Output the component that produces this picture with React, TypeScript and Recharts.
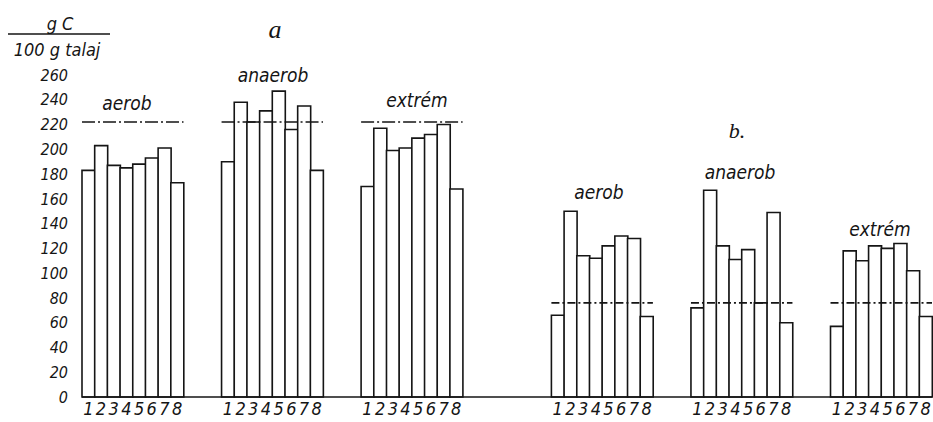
import React from 'react';
import { BarChart, Bar, XAxis, YAxis, ReferenceLine } from 'recharts';

// g C / 100 g talaj, bars 1-8 per treatment
const aAerob = [183, 203, 187, 185, 188, 193, 201, 173];
const aAnaerob = [190, 238, 222, 231, 247, 216, 235, 183];
const aExtrem = [170, 217, 199, 201, 209, 212, 220, 168];
const bAerob = [66, 150, 114, 112, 122, 130, 128, 65];
const bAnaerob = [72, 167, 122, 111, 119, 76, 149, 60];
const bExtrem = [57, 118, 110, 122, 120, 124, 102, 65];

const barLabels = ['1', '2', '3', '4', '5', '6', '7', '8'];
const groupNames = ['aerob', 'anaerob', 'extrém', 'aerob', 'anaerob', 'extrém'];
const yTicks = [0, 20, 40, 60, 80, 100, 120, 140, 160, 180, 200, 220, 240, 260];
const levelA = 222;
const levelB = 76;

const W = 933;
const H = 422;
const LEFT = 82;
const RIGHT = 1;
const TOP = 75;
const XH = 25;

const groups = [aAerob, aAnaerob, aExtrem, bAerob, bAnaerob, bExtrem];
const gapsAfter = [3, 3, 7, 3, 3, 0];

type Slot = { key: string; label: string; v?: number };
const slots: Slot[] = [];
groups.forEach((vals, g) => {
  vals.forEach((v, i) => slots.push({ key: `g${g}-${i}`, label: barLabels[i], v }));
  for (let k = 0; k < gapsAfter[g]; k++) slots.push({ key: `gap${g}-${k}`, label: '' });
});

const half = (W - LEFT - RIGHT) / slots.length / 2;
const ink = '#151515';
const font = '"DejaVu Sans Condensed", "Liberation Sans Narrow", "DejaVu Sans", sans-serif';

const LevelShape = (props: any) => (
  <line
    x1={props.x1 - half}
    x2={props.x2 + half}
    y1={props.y1}
    y2={props.y2}
    stroke={ink}
    strokeWidth={1.6}
    strokeDasharray={props.strokeDasharray}
  />
);

// title positions over each group
const titlePos = [
  { x: 127, y: 110 },
  { x: 273, y: 82 },
  { x: 417, y: 107 },
  { x: 599, y: 199 },
  { x: 740, y: 179 },
  { x: 880, y: 236 },
];

export default function App() {
  const label = { fontFamily: font, fontStyle: 'italic', fontStretch: 'condensed' as const, fill: ink };
  return (
    <div style={{ position: 'absolute', left: 0, top: 0, width: W, height: H, background: '#fff' }}>
      <BarChart
        width={W}
        height={H}
        data={slots}
        margin={{ top: TOP, right: RIGHT, left: 0, bottom: 0 }}
        barCategoryGap={0}
        barGap={0}
      >
        <XAxis
          dataKey="key"
          interval={0}
          height={XH}
          tickFormatter={(k: string) => slots.find(s => s.key === k)?.label ?? ''}
          tickLine={false}
          tickSize={0}
          tickMargin={5}
          axisLine={{ stroke: ink, strokeWidth: 1.6 }}
          tick={{ ...label, fontSize: 18 }}
        />
        <YAxis
          width={LEFT}
          domain={[0, 260]}
          ticks={yTicks}
          interval={0}
          axisLine={false}
          tickLine={false}
          tickSize={0}
          tickMargin={14}
          tick={{ ...label, fontSize: 16 }}
        />
        <Bar dataKey="v" fill="#fff" stroke={ink} strokeWidth={1.6} isAnimationActive={false} />
        {groups.map((_, g) => (
          <ReferenceLine
            key={`lvl${g}`}
            segment={[
              { x: `g${g}-0`, y: g < 3 ? levelA : levelB },
              { x: `g${g}-7`, y: g < 3 ? levelA : levelB },
            ]}
            strokeDasharray={g < 3 ? '13 3 2 3' : '8 3 2 3'}
            shape={LevelShape}
          />
        ))}
      </BarChart>
      <svg width={W} height={H} style={{ position: 'absolute', left: 0, top: 0, pointerEvents: 'none' }}>
        <text x={60} y={30} textAnchor="middle" fontSize={18} style={label}>g C</text>
        <line x1={8} x2={110} y1={34} y2={34} stroke={ink} strokeWidth={1.3} />
        <text x={57} y={56} textAnchor="middle" fontSize={18} style={label}>100 g talaj</text>
        <text x={275} y={38} textAnchor="middle" fontSize={26} fontFamily="Liberation Serif" fontStyle="italic" fill={ink}>a</text>
        <text x={737} y={138} textAnchor="middle" fontSize={22} fontFamily="Liberation Serif" fontStyle="italic" fill={ink}>b.</text>
        {groupNames.map((n, g) => (
          <text key={`t${g}`} x={titlePos[g].x} y={titlePos[g].y} textAnchor="middle" fontSize={19} style={label}>
            {n}
          </text>
        ))}
      </svg>
    </div>
  );
}
